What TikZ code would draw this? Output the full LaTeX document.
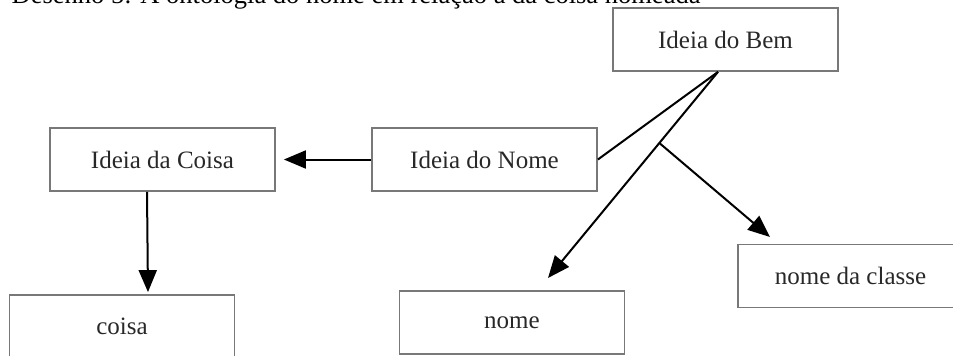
\documentclass[tikz,border=0pt]{standalone}
\usepackage{fontspec}
\setmainfont{Liberation Serif}
\usetikzlibrary{arrows.meta,calc}

\tikzset{
  box/.style={draw={rgb,255:red,120;green,120;blue,120}, line width=1.8pt,
    minimum width=225pt, minimum height=63pt, inner sep=0pt,
    text={rgb,255:red,40;green,40;blue,40},
    font=\fontsize{25}{30}\selectfont},
  link/.style={line width=2pt, black},
  arrow/.style={link, -{Triangle[length=22pt,width=18pt]}}
}

\begin{document}
\begin{tikzpicture}[x=1pt,y=-1pt]
  \useasboundingbox (0,0) rectangle (953,356);
  \clip (0,0) rectangle (953,356);

  % caption, mostly above the page edge
  \node[anchor=base west, inner sep=0pt, font=\fontsize{26.5}{30}\selectfont]
    (caption) at (11.5,4) {Desenho 5: A ontologia do nome em relação à da coisa nomeada};

  % boxes
  \node[box] (bem)       at (725.5,39.5) {Ideia do Bem};
  \node[box] (coisaidea) at (162.5,159.5) {Ideia da Coisa};
  \node[box] (nomeidea)  at (484.5,159.5) {Ideia do Nome};
  \node[box] (coisa)     at (122,326.5) {coisa};
  \node[box] (nome)      at (512,322.5) {nome};
  \node[box] (classe)    at (850.5,276) {nome da classe};

  % connector end points
  \coordinate (hub) at ([xshift=-7.5pt]bem.south);
  \coordinate (nometip) at (548,278);
  \coordinate (classetip) at (770,237);
  \coordinate (junction) at ($(hub)!0.345!(nometip)$);

  % connectors
  \draw[arrow, shorten >=8pt] (nomeidea.west) -- (coisaidea.east);
  \draw[arrow, shorten >=2pt] ([xshift=-15.5pt]coisaidea.south) -- ([xshift=26pt]coisa.north);
  \draw[link] (hub) -- (nomeidea.east);
  \draw[arrow] (hub) -- (nometip);
  \draw[arrow] (junction) -- (classetip);
\end{tikzpicture}
\end{document}
